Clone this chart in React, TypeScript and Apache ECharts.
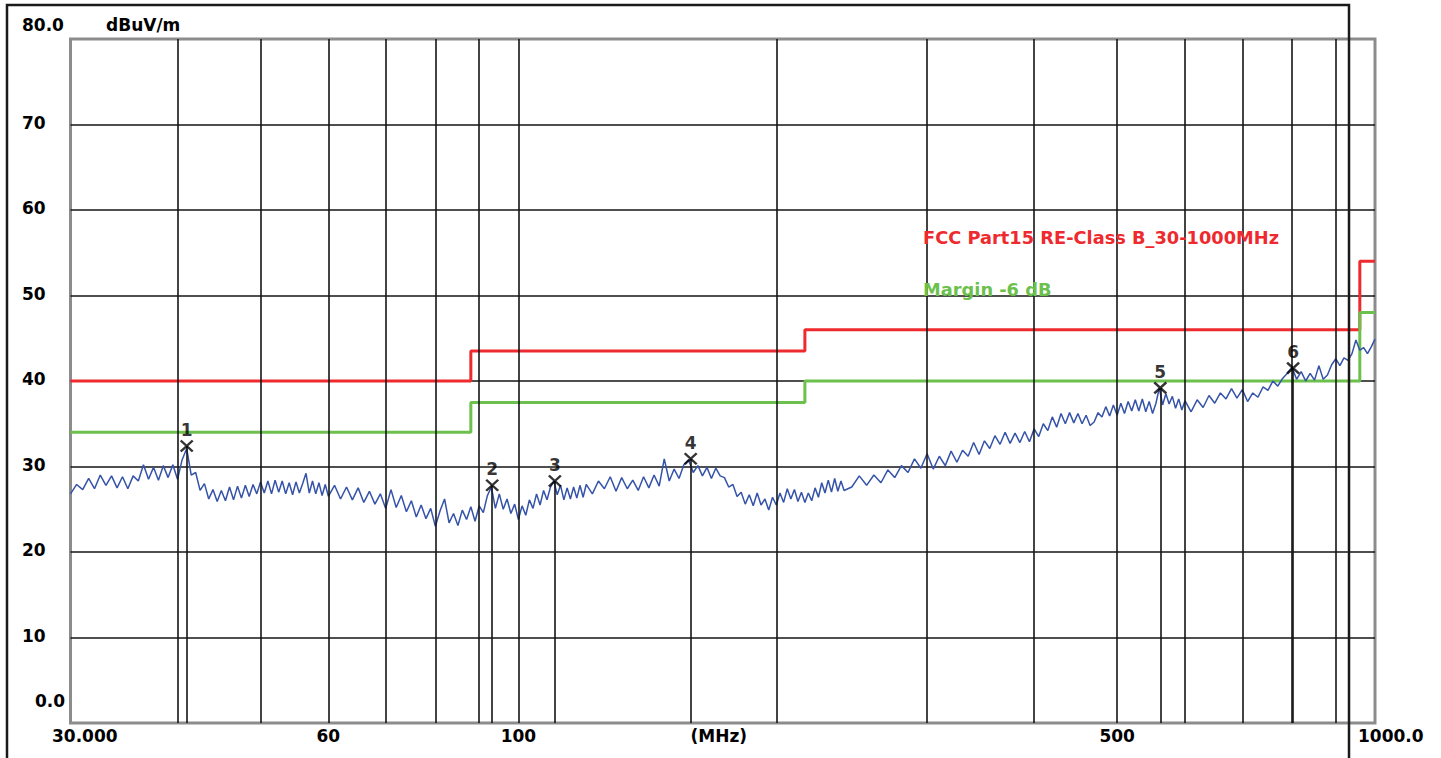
import React, { useEffect, useRef } from "react";
import * as echarts from "echarts";

// ---- Measured trace (frequency in MHz, level in dBuV/m) ----
const traceFreqA = [30, 30.5, 31, 31.5, 32, 32.5, 33, 33.5, 34, 34.5, 35, 35.5, 36, 36.5, 37, 37.5, 38, 38.5, 39, 39.5, 40, 40.5, 41, 41.5, 42, 42.5, 43, 43.5, 44, 44.5, 45, 45.5, 46, 46.5, 47, 47.5, 48, 48.5, 49, 49.5, 50, 50.5, 51, 51.5, 52, 52.5, 53, 53.5, 54, 54.5, 55, 55.5, 56, 56.5, 57, 57.5, 58, 58.5, 59, 59.5, 60];
const traceLevelA = [26.8, 27.9, 27.3, 28.6, 27.4, 29.0, 27.8, 28.9, 27.5, 28.8, 27.4, 28.9, 28.3, 30.2, 28.5, 29.9, 28.4, 30.1, 28.7, 30.2, 28.5, 30.8, 32.1, 29.0, 29.3, 27.2, 28.0, 26.2, 27.3, 25.9, 27.2, 26.0, 27.6, 26.1, 27.7, 26.3, 27.8, 26.5, 27.9, 26.8, 28.2, 26.9, 28.3, 26.8, 28.4, 27.0, 28.3, 26.8, 28.1, 26.7, 28.2, 26.9, 28.0, 29.2, 26.9, 28.3, 26.8, 28.1, 26.6, 27.9, 26.5];

const traceFreqB = [61, 62, 63, 64, 65, 66, 67, 68, 69, 70, 71, 72, 73, 74, 75, 76, 77, 78, 79, 80, 81, 82, 83, 84, 85, 86, 87, 88, 89, 90, 91, 92, 93, 94, 95, 96, 97, 98, 99, 100, 101, 102, 103, 104, 105, 106, 107, 108, 109, 110, 111, 112, 113, 114, 115, 116, 117, 118, 119, 120];
const traceLevelB = [27.8, 26.2, 27.6, 26.1, 27.5, 25.8, 27.1, 25.6, 26.8, 25.1, 27.3, 25.2, 26.6, 24.7, 26.0, 24.1, 25.5, 23.9, 25.1, 23.0, 24.8, 26.2, 23.4, 24.5, 23.1, 24.9, 23.8, 25.3, 23.6, 25.4, 24.6, 26.6, 27.6, 25.1, 26.8, 25.0, 26.2, 24.5, 25.6, 23.8, 25.4, 24.3, 26.1, 25.1, 26.8, 25.5, 27.2, 26.1, 27.6, 28.3, 26.7, 27.8, 26.1, 27.5, 26.2, 27.6, 26.3, 27.8, 26.4, 27.9];

const traceFreqC = [122, 124, 126, 128, 130, 132, 134, 136, 138, 140, 142, 144, 146, 148, 150, 152, 154, 156, 158, 160, 162, 164, 166, 168, 170, 172, 174, 176, 178, 180, 182, 184, 186, 188, 190, 192, 194, 196, 198, 200, 202, 204, 206, 208, 210, 212, 214, 216, 218, 220, 222, 224, 226, 228, 230, 232, 234, 236, 238, 240];
const traceLevelC = [26.8, 28.3, 27.4, 28.8, 27.1, 28.7, 27.4, 28.4, 27.2, 28.8, 27.5, 29.0, 27.7, 30.9, 28.3, 29.7, 28.6, 30.2, 30.8, 29.3, 30.1, 28.9, 29.9, 28.6, 29.8, 28.9, 28.7, 27.6, 27.9, 26.5, 27.0, 25.6, 26.7, 25.4, 26.9, 25.5, 26.2, 24.9, 26.4, 25.5, 26.9, 25.8, 27.4, 26.2, 27.3, 25.9, 27.0, 25.8, 26.9, 26.0, 27.5, 26.4, 28.1, 26.9, 28.4, 27.0, 28.6, 27.1, 28.3, 27.2];

const traceFreqD = [245, 250, 255, 260, 265, 270, 275, 280, 285, 290, 295, 300, 305, 310, 315, 320, 325, 330, 335, 340, 345, 350, 355, 360, 365, 370, 375, 380, 385, 390, 395, 400, 405, 410, 415, 420, 425, 430, 435, 440, 445, 450, 455, 460, 465, 470, 475, 480, 485, 490, 495, 500, 505, 510, 515, 520, 525, 530, 535, 540, 545, 550, 555, 560, 565, 570, 575, 580, 585, 590, 595, 600];
const traceLevelD = [27.6, 28.9, 27.8, 29.0, 28.1, 29.6, 28.7, 30.1, 29.3, 30.9, 29.8, 31.5, 29.7, 31.2, 30.1, 31.8, 30.5, 31.9, 31.2, 32.8, 31.4, 33.0, 32.1, 33.6, 32.6, 34.0, 32.7, 33.9, 32.8, 34.1, 32.9, 34.4, 33.5, 35.0, 34.2, 35.8, 34.6, 36.2, 35.0, 36.3, 35.1, 36.2, 35.0, 36.0, 34.8, 35.2, 36.3, 35.8, 37.0, 35.9, 37.2, 36.0, 37.4, 36.2, 37.6, 36.5, 37.8, 36.5, 37.9, 36.4, 37.6, 36.2, 37.4, 39.2, 37.2, 38.5, 37.3, 38.2, 36.8, 37.9, 36.6, 37.7];

const traceFreqE = [610, 620, 630, 640, 650, 660, 670, 680, 690, 700, 710, 720, 730, 740, 750, 760, 770, 780, 790, 800, 810, 820, 830, 840, 850, 860, 870, 880, 890, 900, 910, 920, 930, 940, 950, 960, 970, 980, 990, 1000];
const traceLevelE = [36.4, 37.8, 36.9, 38.3, 37.4, 38.6, 37.9, 39.1, 38.0, 39.0, 37.6, 38.6, 38.1, 39.3, 38.9, 40.0, 39.4, 40.3, 40.9, 41.6, 40.2, 41.1, 40.0, 40.9, 40.1, 41.8, 40.2, 40.7, 41.9, 42.6, 41.8, 42.7, 42.4, 43.2, 44.8, 43.6, 43.9, 43.2, 44.0, 44.9];

// ---- Limit lines (step at each frequency) ----
const limitFreq = [30, 88, 216, 960, 1000];
const limitLevel = [40, 43.5, 46, 54, 54];
const marginLevel = [34, 37.5, 40, 48, 48];
const limitName = "FCC Part15 RE-Class B_30-1000MHz";
const marginName = "Margin -6 dB";

// ---- Peak markers ----
const markerFreq = [41.0, 93.2, 110.3, 158.9, 561.5, 802.4];
const markerLevel = [32.4, 27.8, 28.3, 30.9, 39.2, 41.5];
const markerNames = ["1", "2", "3", "4", "5", "6"];

// ---- Axes ----
const gridFreq = [40, 50, 60, 70, 80, 90, 100, 200, 300, 400, 500, 600, 700, 800, 900];
const xTickValues = [30, 60, 100, 500, 1000];
const xTickLabels = ["30.000", "60", "100", "500", "1000.0"];
const yTickValues = [80, 70, 60, 50, 40, 30, 20, 10, 0];
const yTickLabels = ["80.0", "70", "60", "50", "40", "30", "20", "10", "0.0"];
const yUnit = "dBuV/m";
const xUnit = "(MHz)";

const FONT = "DejaVu Sans";
const RED = "#ee2a2e";
const GREEN = "#6cc04c";
const BLUE = "#3553a8";

export default function App() {
  const ref = useRef<HTMLDivElement>(null);

  useEffect(() => {
    if (!ref.current) return;
    const chart = echarts.init(ref.current, null, { renderer: "svg" });

    const traceFreq = [...traceFreqA, ...traceFreqB, ...traceFreqC, ...traceFreqD, ...traceFreqE];
    const traceLevel = [...traceLevelA, ...traceLevelB, ...traceLevelC, ...traceLevelD, ...traceLevelE];

    chart.setOption({
      animation: false,
      backgroundColor: "#ffffff",
      textStyle: { fontFamily: FONT },
      grid: {
        left: 70.5,
        top: 39,
        right: 66,
        bottom: 35,
        show: true,
        borderColor: "#8c8c8c",
        borderWidth: 3,
        backgroundColor: "#ffffff",
      },
      xAxis: {
        type: "log",
        logBase: 10,
        min: 30,
        max: 1000,
        axisLine: { show: false },
        axisTick: { show: false },
        axisLabel: { show: false },
        splitLine: { show: false },
      },
      yAxis: {
        type: "value",
        min: 0,
        max: 80,
        interval: 10,
        axisLine: { show: false },
        axisTick: { show: false },
        axisLabel: { show: false },
        splitLine: {
          show: true,
          showMinLine: false,
          showMaxLine: false,
          lineStyle: { color: "#151515", width: 1.6 },
        },
      },
      series: [
        {
          name: "grid",
          type: "line",
          data: [[30, -10], [1000, -10]],
          symbol: "none",
          lineStyle: { opacity: 0 },
          silent: true,
          z: 1,
          markLine: {
            silent: true,
            symbol: ["none", "none"],
            label: { show: false },
            lineStyle: { color: "#151515", width: 1.6, type: "solid" },
            data: gridFreq.map((f) => ({ xAxis: f })),
          },
        },
        {
          name: limitName,
          type: "line",
          step: "end",
          data: limitFreq.map((f, i) => [f, limitLevel[i]]),
          symbol: "none",
          lineStyle: { color: RED, width: 3 },
          z: 3,
        },
        {
          name: marginName,
          type: "line",
          step: "end",
          data: limitFreq.map((f, i) => [f, marginLevel[i]]),
          symbol: "none",
          lineStyle: { color: GREEN, width: 3 },
          z: 3,
        },
        {
          name: "trace",
          type: "line",
          data: traceFreq.map((f, i) => [f, traceLevel[i]]),
          symbol: "none",
          lineStyle: { color: BLUE, width: 1.5 },
          z: 4,
        },
        {
          name: "markers",
          type: "scatter",
          data: markerFreq.map((f, i) => [f, markerLevel[i]]),
          symbol: "path://M0,0L10,10M0,10L10,0",
          symbolSize: [12, 11],
          itemStyle: { color: "rgba(0,0,0,0)", borderColor: "#000", borderWidth: 2.4 },
          label: {
            show: true,
            position: "top",
            distance: 1,
            formatter: (p: any) => markerNames[p.dataIndex],
            fontFamily: FONT,
            fontWeight: "bold",
            fontSize: 17,
            color: "#000",
          },
          z: 6,
          markLine: {
            silent: true,
            symbol: ["none", "none"],
            label: { show: false },
            lineStyle: { color: "#151515", width: 1.6, type: "solid" },
            data: markerFreq.map((f, i) => [
              { coord: [f, markerLevel[i]] },
              { coord: [f, 0] },
            ]),
          },
        },
      ],
    });

    const px = (f: number) => chart.convertToPixel({ xAxisIndex: 0 }, f) as number;
    const py = (v: number) => chart.convertToPixel({ yAxisIndex: 0 }, v) as number;
    const x0 = px(30);
    const x1 = px(1000);
    const yBottom = py(0);
    const lastY = yTickValues.length - 1;
    const lastX = xTickValues.length - 1;

    const textStyle = (text: string, x: number, y: number, align: string, fill = "#000", size = 17) => ({
      type: "text",
      x,
      y,
      silent: true,
      style: {
        text,
        fill,
        fontFamily: FONT,
        fontWeight: "bold",
        fontSize: size,
        align,
        verticalAlign: "middle",
      },
      z: 50,
    });

    const yLabels = yTickValues.map((v, i) => {
      if (i === 0) return textStyle(yTickLabels[i], x0 - 48.5, py(v) - 14.5, "left");
      if (i === lastY) return textStyle(yTickLabels[i], x0 - 35.5, py(v) - 22, "left");
      return textStyle(yTickLabels[i], x0 - 48.5, py(v) - 2, "left");
    });

    const xLabels = xTickValues.map((v, i) => {
      if (i === 0) return textStyle(xTickLabels[i], px(v) - 18.5, yBottom + 13, "left");
      if (i === lastX) return textStyle(xTickLabels[i], px(v) - 17, yBottom + 13, "left");
      return textStyle(xTickLabels[i], px(v), yBottom + 13, "center");
    });

    chart.setOption({
      graphic: [
        ...yLabels,
        ...xLabels,
        textStyle(yUnit, x0 + 35.5, py(80) - 14.5, "left"),
        textStyle(xUnit, (x0 + x1) / 2 - 4, yBottom + 13, "center"),
        textStyle(limitName, px(300) - 4, 237, "left", RED, 17.8),
        textStyle(marginName, px(300) - 4, 289, "left", GREEN, 17.8),
        {
          type: "polyline",
          silent: true,
          z: 100,
          shape: { points: [[7, 770], [7, 5], [1349, 5], [1349, 770]] },
          style: { stroke: "#1a1a1a", lineWidth: 2.5, fill: "none" },
        },
      ],
    });

    return () => chart.dispose();
  }, []);

  return (
    <div
      ref={ref}
      style={{ position: "absolute", left: 0, top: 0, width: 1441, height: 758, background: "#fff" }}
    />
  );
}
